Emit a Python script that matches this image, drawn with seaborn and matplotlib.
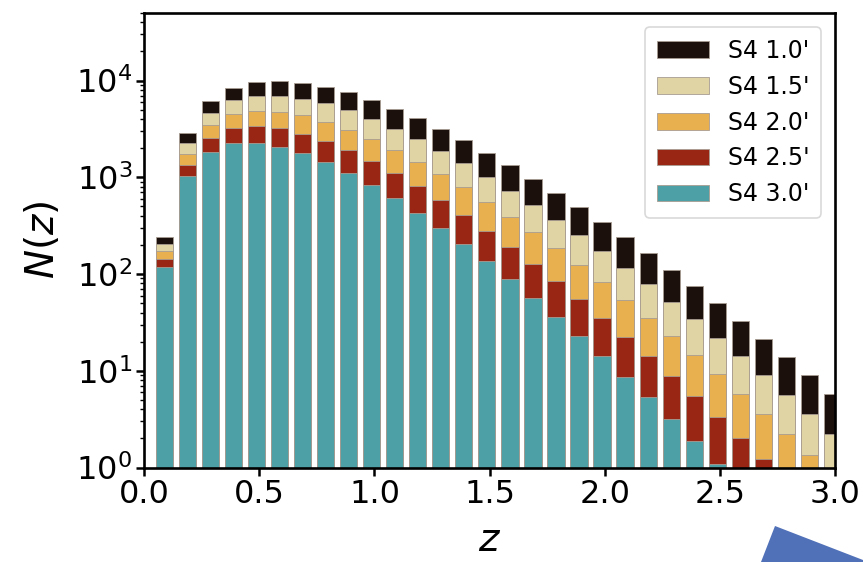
import numpy as np
import matplotlib
matplotlib.use("Agg")
import matplotlib.pyplot as plt
from matplotlib.patches import Polygon
import seaborn as sns

# Redshift bins: left edge of each bar (bin width 0.1)
z_left = [0.05, 0.15, 0.25, 0.35, 0.45, 0.55, 0.65, 0.75, 0.85, 0.95,
          1.05, 1.15, 1.25, 1.35, 1.45, 1.55, 1.65, 1.75, 1.85, 1.95,
          2.05, 2.15, 2.25, 2.35, 2.45, 2.55, 2.65, 2.75, 2.85, 2.95]

# N(z) per configuration (beam size in arcmin)
n_10 = [240, 2890, 6100, 8430, 9720, 9950, 9490, 8630, 7550, 6240,
        5115, 4070, 3175, 2410, 1795, 1328, 966, 692, 493, 345,
        239, 164, 111, 74.6, 49.8, 32.9, 21.4, 14.0, 8.97, 5.71]
n_15 = [203, 2280, 4650, 6240, 6965, 6965, 6490, 5810, 4920, 3970,
        3175, 2467, 1868, 1394, 1014, 726, 517, 361, 251, 173,
        116, 78.2, 51.7, 34.0, 22.0, 14.2, 9.04, 5.66, 3.57, 2.22]
n_20 = [173, 1750, 3470, 4505, 4875, 4760, 4370, 3750, 3100, 2467,
        1927, 1449, 1081, 787, 559, 391, 270, 184.5, 124, 82,
        54.3, 35.3, 22.9, 14.5, 9.2, 5.75, 3.57, 2.2, 1.34, 0]
n_25 = [142, 1340, 2525, 3205, 3390, 3205, 2800, 2350, 1900, 1462,
        1098, 812, 578, 407, 280, 192, 128, 84, 54.8, 35.3,
        22.5, 14.1, 8.8, 5.45, 3.33, 2.02, 1.22, 0, 0, 0]
n_30 = [119, 1030, 1837, 2243, 2275, 2070, 1768, 1428, 1114, 831,
        606, 430, 297, 203, 135, 88, 56.5, 36, 22.7, 14.1,
        8.7, 5.3, 3.15, 1.88, 1.10, 0, 0, 0, 0, 0]

labels = ["S4 1.0'", "S4 1.5'", "S4 2.0'", "S4 2.5'", "S4 3.0'"]
colors = ["#1b100c", "#e0d3a4", "#e8b04e", "#992614", "#4da0a6"]
series = [n_10, n_15, n_20, n_25, n_30]

sns.set_style("ticks")
plt.rcParams["font.family"] = ["DejaVu Sans"]
plt.rcParams["mathtext.fontset"] = "dejavusans"
plt.rcParams["text.color"] = "black"
plt.rcParams["xtick.color"] = "black"
plt.rcParams["ytick.color"] = "black"
plt.rcParams["axes.labelcolor"] = "black"

fig = plt.figure(figsize=(8.63, 5.62), dpi=100)
ax = fig.add_axes([0.1669, 0.1681, 0.8011, 0.8088])

for vals, lab, col in zip(series, labels, colors):
    ax.bar(z_left, vals, width=0.075, align="edge", color=col, label=lab,
           edgecolor="#a89c92", linewidth=0.6)

ax.set_yscale("log")
ax.set_xlim(0, 3.0)
ax.set_ylim(1, 5e4)
ax.set_xticks([0.0, 0.5, 1.0, 1.5, 2.0, 2.5, 3.0])

for side in ax.spines.values():
    side.set_linewidth(1.9)
    side.set_color("black")
ax.tick_params(axis="both", which="major", labelsize=23, length=5.5,
               width=1.8, direction="out", pad=3)
ax.tick_params(axis="y", which="minor", length=3, width=1.0)

ax.set_xlabel("$z$", fontsize=28, labelpad=8)
ax.set_ylabel("$N(z)$", fontsize=28, labelpad=10)

leg = ax.legend(loc="upper right", fontsize=17, frameon=True, fancybox=True,
                handlelength=2.2, labelspacing=0.5, borderpad=0.5,
                borderaxespad=0.6)
leg.get_frame().set_edgecolor("#d0d0d0")
leg.get_frame().set_linewidth(1.2)

# Blue pointer shape at the lower right of the canvas
W, H = 863, 562
pts = [(775 / W, 1 - 526 / H), (863 / W, 1 - 560 / H), (863 / W, 1 - 562 / H),
       (761 / W, 1 - 562 / H)]
fig.patches.append(Polygon(pts, closed=True, transform=fig.transFigure,
                           facecolor="#5070b8", edgecolor="none"))

fig.savefig("out.png", dpi=100)
